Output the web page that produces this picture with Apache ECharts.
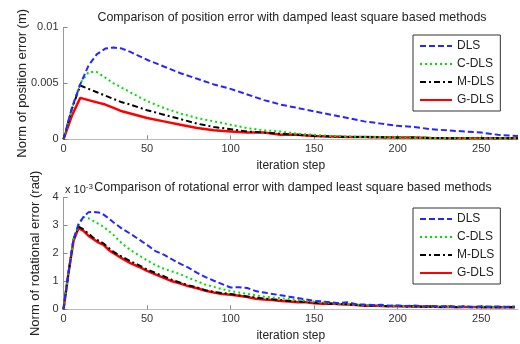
<!DOCTYPE html>
<html>
<head>
<meta charset="utf-8">
<script src="https://cdn.jsdelivr.net/npm/echarts@6/dist/echarts.min.js"></script>
<style>html,body{margin:0;padding:0;background:#fff;}#c{width:520px;height:344px;}</style>
</head>
<body>
<div id="c"></div>
<script>
// ---- Data ----
var seriesNames = ['DLS', 'C-DLS', 'M-DLS', 'G-DLS'];
var xTicks = [0, 50, 100, 150, 200, 250];

// Top chart: position error (m)
var posSteps = [0, 5, 10, 15, 20, 25, 30, 35, 40, 50, 60, 70, 80, 90, 100, 110, 120, 130, 140, 150, 160, 170, 180, 190, 200, 210, 220, 230, 240, 250, 260, 272];
var posDLS  = [0, 0.0028, 0.0049, 0.0066, 0.0076, 0.0081, 0.0082, 0.0081, 0.0078, 0.0071, 0.0065, 0.0059, 0.0054, 0.0049, 0.0045, 0.0040, 0.0035, 0.0031, 0.0028, 0.0025, 0.0022, 0.0019, 0.0016, 0.0014, 0.0012, 0.0011, 0.0009, 0.0008, 0.0007, 0.0006, 0.0004, 0.0003];
var posCDLS = [0, 0.0027, 0.0050, 0.0060, 0.0060, 0.0055, 0.0050, 0.0046, 0.0042, 0.0034, 0.0028, 0.0023, 0.0019, 0.0016, 0.0013, 0.0010, 0.0008, 0.0007, 0.0005, 0.0004, 0.0003, 0.00025, 0.0002, 0.0002, 0.00015, 0.00015, 0.00012, 0.0001, 0.0001, 0.0001, 0.0001, 0.0001];
var posMDLS = [0, 0.0027, 0.0048, 0.0045, 0.0042, 0.0039, 0.0036, 0.0033, 0.0031, 0.0026, 0.0022, 0.0018, 0.0014, 0.0011, 0.0009, 0.0007, 0.0006, 0.0005, 0.0004, 0.0003, 0.00025, 0.0002, 0.0002, 0.00018, 0.00015, 0.00015, 0.00012, 0.0001, 0.0001, 0.0001, 0.0001, 0.0001];
var posGDLS = [0, 0.0021, 0.0037, 0.0035, 0.0033, 0.0031, 0.0028, 0.0025, 0.0023, 0.0019, 0.0016, 0.0013, 0.0010, 0.0008, 0.0007, 0.0006, 0.0006, 0.0004, 0.0004, 0.0003, 0.00025, 0.0002, 0.0002, 0.00018, 0.00015, 0.00015, 0.00012, 0.0001, 0.0001, 0.0001, 0.0001, 0.0001];

// Bottom chart: rotational error (x 10^-3 rad)
var rotSteps = [0, 3, 6, 9, 12, 15, 18, 21, 24, 27, 30, 35, 40, 45, 50, 55, 60, 65, 70, 75, 80, 85, 90, 95, 100, 105, 110, 115, 120, 125, 130, 135, 140, 145, 150, 155, 160, 165, 170, 175, 180, 185, 190, 195, 200, 205, 210, 215, 220, 225, 230, 235, 240, 245, 250, 255, 260, 265, 270];
var rotDLS  = [0, 1.3, 2.5, 3.05, 3.3, 3.47, 3.48, 3.46, 3.38, 3.25, 3.1, 2.88, 2.7, 2.5, 2.3, 2.08, 1.95, 1.78, 1.62, 1.48, 1.3, 1.15, 1.02, 0.9, 0.78, 0.79, 0.76, 0.65, 0.6, 0.55, 0.5, 0.45, 0.4, 0.35, 0.3, 0.28, 0.25, 0.22, 0.25, 0.18, 0.17, 0.15, 0.16, 0.13, 0.14, 0.12, 0.14, 0.1, 0.12, 0.1, 0.12, 0.09, 0.11, 0.08, 0.11, 0.09, 0.1, 0.08, 0.1];
var rotCDLS = [0, 1.3, 2.5, 3.0, 3.3, 3.25, 3.15, 3.05, 2.95, 2.8, 2.65, 2.35, 2.12, 1.93, 1.75, 1.58, 1.45, 1.35, 1.25, 1.12, 1.0, 0.88, 0.8, 0.72, 0.65, 0.6, 0.55, 0.5, 0.45, 0.42, 0.4, 0.36, 0.33, 0.3, 0.27, 0.25, 0.22, 0.2, 0.2, 0.17, 0.15, 0.14, 0.12, 0.13, 0.11, 0.12, 0.1, 0.11, 0.09, 0.1, 0.08, 0.1, 0.09, 0.08, 0.1, 0.07, 0.09, 0.08, 0.09];
var rotMDLS = [0, 1.3, 2.5, 2.95, 2.85, 2.7, 2.55, 2.45, 2.35, 2.2, 2.05, 1.88, 1.72, 1.58, 1.42, 1.3, 1.18, 1.05, 0.95, 0.85, 0.78, 0.68, 0.62, 0.58, 0.55, 0.5, 0.46, 0.42, 0.38, 0.36, 0.33, 0.3, 0.28, 0.27, 0.24, 0.22, 0.2, 0.19, 0.18, 0.16, 0.14, 0.13, 0.12, 0.11, 0.12, 0.1, 0.11, 0.09, 0.1, 0.08, 0.09, 0.08, 0.09, 0.07, 0.08, 0.07, 0.08, 0.07, 0.07];
var rotGDLS = [0, 1.3, 2.45, 2.9, 2.8, 2.62, 2.5, 2.38, 2.3, 2.12, 2.0, 1.82, 1.65, 1.52, 1.37, 1.25, 1.12, 1.0, 0.92, 0.82, 0.75, 0.66, 0.6, 0.55, 0.52, 0.48, 0.44, 0.38, 0.35, 0.33, 0.3, 0.28, 0.25, 0.25, 0.22, 0.2, 0.21, 0.18, 0.17, 0.15, 0.13, 0.14, 0.12, 0.11, 0.12, 0.1, 0.1, 0.09, 0.1, 0.08, 0.09, 0.07, 0.08, 0.08, 0.07, 0.08, 0.07, 0.08, 0.07];

// ---- Chart ----
function pairs(xs, ys) { return xs.map(function (x, i) { return [x, ys[i]]; }); }
var styles = [
  { color: '#2626ff', type: [6, 3], width: 2 },
  { color: '#00e000', type: [2, 3], width: 2 },
  { color: '#000000', type: [6, 3, 2, 3], width: 2 },
  { color: '#ff0000', type: 'solid', width: 2.5 }
];
function mkSeries(idx, dataSets, steps) {
  return dataSets.map(function (d, i) {
    return {
      name: seriesNames[i], type: 'line', xAxisIndex: idx, yAxisIndex: idx,
      data: pairs(steps, d), showSymbol: false, symbol: 'none',
      lineStyle: { color: styles[i].color, type: styles[i].type, width: styles[i].width },
      itemStyle: { color: styles[i].color },
      z: 10 - i, animation: false
    };
  });
}
var font = 'Liberation Sans, Arial, sans-serif';
var GL = 63.5, GW = 454.5, GH = 112;
function xAx(idx) {
  return {
    type: 'value', gridIndex: idx, min: 0, max: 272, interval: 50,
    name: 'iteration step', nameLocation: 'middle', nameGap: 20,
    nameTextStyle: { fontFamily: font, fontSize: 12, color: '#222' },
    axisLine: { show: true, lineStyle: { color: '#bbbbbb', width: 1 } },
    axisTick: { show: true, inside: true, length: 4, lineStyle: { color: '#888' } },
    axisLabel: { fontFamily: font, fontSize: 11, color: '#333', margin: 4, showMaxLabel: false },
    splitLine: { show: false }
  };
}
function legendOpt(top) {
  return { data: seriesNames, orient: 'vertical', left: 413, top: top, padding: [5, 6, 5, 6], itemGap: 6,
    itemWidth: 32, itemHeight: 11, borderColor: '#333', borderWidth: 1, backgroundColor: '#fff',
    itemStyle: { opacity: 0 },
    textStyle: { fontFamily: font, fontSize: 12, color: '#222' } };
}
var chart = echarts.init(document.getElementById('c'), null, { renderer: 'canvas' });
chart.setOption({
  backgroundColor: '#fff',
  animation: false,
  title: [
    { text: 'Comparison of position error with damped least square based methods', left: 287, top: 7, textAlign: 'center',
      textStyle: { fontFamily: font, fontSize: 12.4, fontWeight: 'normal', color: '#222' } },
    { text: 'Comparison of rotational error with damped least square based methods', left: 288, top: 177, textAlign: 'center',
      textStyle: { fontFamily: font, fontSize: 12.4, fontWeight: 'normal', color: '#222' } },
    { text: 'x 10{sup|-3}', left: 60, top: 178,
      textStyle: { fontFamily: font, fontSize: 11, fontWeight: 'normal', color: '#222',
        rich: { sup: { fontFamily: font, fontSize: 8, color: '#222', verticalAlign: 'top', padding: [0, 0, 6, 0] } } } }
  ],
  grid: [
    { left: GL, top: 27.3, width: GW, height: GH },
    { left: GL, top: 197.3, width: GW, height: GH }
  ],
  legend: [legendOpt(35), legendOpt(208)],
  xAxis: [xAx(0), xAx(1)],
  yAxis: [
    { type: 'value', gridIndex: 0, min: 0, max: 0.01, interval: 0.005,
      name: 'Norm of position error (m)', nameLocation: 'middle', nameGap: 35, nameMoveOverlap: false,
      nameTextStyle: { fontFamily: font, fontSize: 13, color: '#222' },
      axisLine: { show: true, lineStyle: { color: '#999', width: 1 } },
      axisTick: { show: true, inside: true, length: 4, lineStyle: { color: '#888' } },
      axisLabel: { fontFamily: font, fontSize: 11, color: '#333', margin: 5,
        formatter: function (v) { return v === 0 ? '0' : String(+v.toFixed(4)); } },
      splitLine: { show: false } },
    { type: 'value', gridIndex: 1, min: 0, max: 4, interval: 1,
      name: 'Norm of rotational error (rad)', nameLocation: 'middle', nameGap: 22, nameMoveOverlap: false,
      nameTextStyle: { fontFamily: font, fontSize: 13, color: '#222' },
      axisLine: { show: true, lineStyle: { color: '#999', width: 1 } },
      axisTick: { show: true, inside: true, length: 4, lineStyle: { color: '#888' } },
      axisLabel: { fontFamily: font, fontSize: 11, color: '#333', margin: 5 },
      splitLine: { show: false } }
  ],
  series: mkSeries(0, [posDLS, posCDLS, posMDLS, posGDLS], posSteps)
    .concat(mkSeries(1, [rotDLS, rotCDLS, rotMDLS, rotGDLS], rotSteps))
});
</script>
</body>
</html>
